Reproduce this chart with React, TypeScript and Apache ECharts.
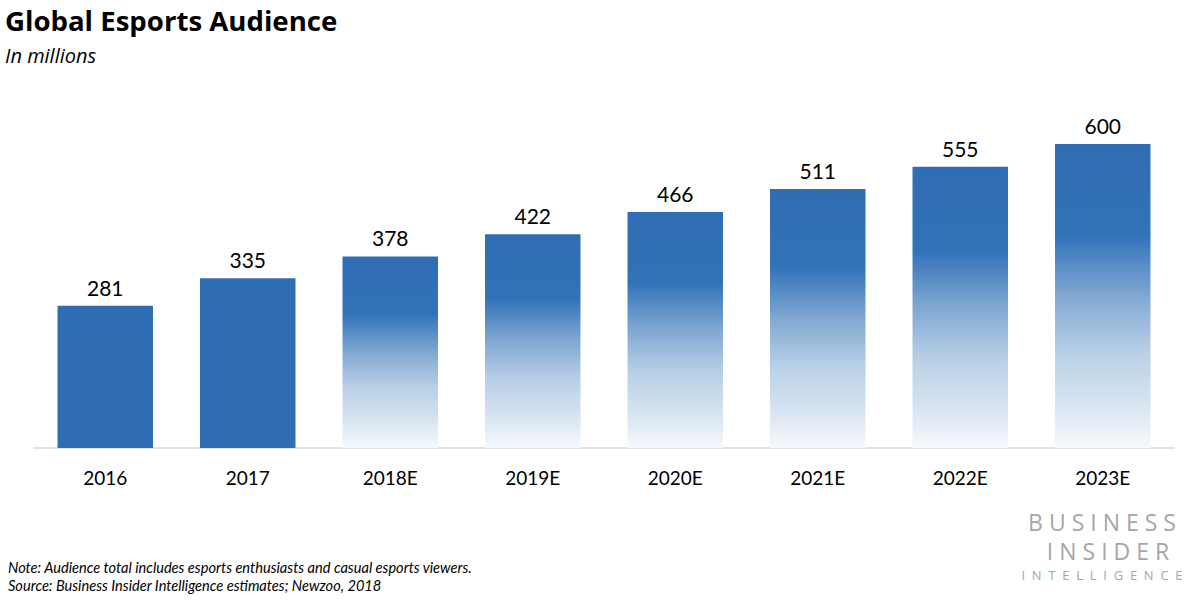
import React, { useEffect, useRef } from "react";
import * as echarts from "echarts";

const categories = ["2016", "2017", "2018E", "2019E", "2020E", "2021E", "2022E", "2023E"];
const audience = [281, 335, 378, 422, 466, 511, 555, 600];
const isEstimate = [false, false, true, true, true, true, true, true];

const titleText = "Global Esports Audience";
const subtitleText = "In millions";
const noteText = "Note: Audience total includes esports enthusiasts and casual esports viewers.";
const sourceText = "Source: Business Insider Intelligence estimates; Newzoo, 2018";

export default function App() {
  const ref = useRef<HTMLDivElement>(null);
  useEffect(() => {
    if (!ref.current) return;
    const chart = echarts.init(ref.current, null, { renderer: "svg" });
    const solid = "#2F6EB5";
    const grad = new echarts.graphic.LinearGradient(0, 0, 0, 1, [
      { offset: 0, color: "#2F6DB4" },
      { offset: 0.3, color: "#3272B9" },
      { offset: 0.5, color: "#80A8D2" },
      { offset: 0.68, color: "#B8CFE6" },
      { offset: 0.85, color: "#D6E3F0" },
      { offset: 1, color: "#F6F9FC" },
    ]);
    chart.setOption({
      animation: false,
      backgroundColor: "#ffffff",
      grid: { left: 34, right: 26, top: 144, bottom: 152, containLabel: false },
      xAxis: {
        type: "category",
        data: categories,
        axisLine: { show: true, lineStyle: { color: "#D9D9D9", width: 1.5 } },
        axisTick: { show: false },
        axisLabel: {
          color: "#000000",
          fontSize: 19,
          fontFamily: "Lato, 'Noto Sans', sans-serif",
          margin: 20,
        },
      },
      yAxis: {
        type: "value",
        min: 0,
        max: 600,
        show: false,
        splitLine: { show: false },
      },
      series: [
        {
          type: "bar",
          barWidth: "67%",
          data: audience.map((v, i) => ({
            value: v,
            itemStyle: { color: isEstimate[i] ? grad : solid },
          })),
          label: {
            show: true,
            position: "top",
            distance: 8,
            color: "#000000",
            fontSize: 21,
            fontFamily: "Lato, 'Noto Sans', sans-serif",
          },
        },
      ],
      graphic: [
        {
          type: "text",
          left: 5,
          top: 6,
          style: {
            text: titleText,
            font: "bold 27.6px 'Open Sans', 'Noto Sans', sans-serif",
            fill: "#000000",
          },
        },
        {
          type: "text",
          left: 5,
          top: 45,
          style: {
            text: subtitleText,
            font: "italic 20px 'Open Sans', 'Noto Sans', sans-serif",
            fill: "#000000",
          },
        },
        {
          type: "text",
          left: 8,
          top: 560,
          style: {
            text: noteText,
            font: "italic 14.6px Lato, 'Noto Sans', sans-serif",
            fill: "#000000",
          },
        },
        {
          type: "text",
          left: 8,
          top: 578,
          style: {
            text: sourceText,
            font: "italic 14.6px Lato, 'Noto Sans', sans-serif",
            fill: "#000000",
          },
        },
        {
          type: "text",
          x: 1102,
          y: 510,
          style: {
            text: "B U S I N E S S",
            font: "23px 'Open Sans', 'Noto Sans', sans-serif",
            fill: "#A6A6A6",
            align: "center",
            lineHeight: 24,
          },
        },
        {
          type: "text",
          x: 1108,
          y: 539,
          style: {
            text: "I N S I D E R",
            font: "23px 'Open Sans', 'Noto Sans', sans-serif",
            fill: "#A6A6A6",
            align: "center",
            lineHeight: 24,
          },
        },
        {
          type: "text",
          x: 1102,
          y: 568,
          style: {
            text: "I  N  T  E  L  L  I  G  E  N  C  E",
            font: "13px 'Open Sans', 'Noto Sans', sans-serif",
            fill: "#A6A6A6",
            align: "center",
            lineHeight: 14,
          },
        },
      ],
    });
    return () => chart.dispose();
  }, []);
  return <div ref={ref} style={{ width: 1200, height: 600, position: "absolute", left: 0, top: 0 }} />;
}
